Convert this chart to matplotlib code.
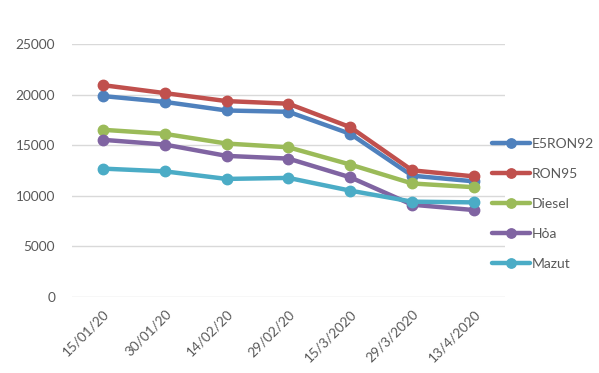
import matplotlib
matplotlib.use("Agg")
import matplotlib.pyplot as plt

dates = ["15/01/20", "30/01/20", "14/02/20", "29/02/20", "15/3/2020", "29/3/2020", "13/4/2020"]
e5ron92 = [19850, 19270, 18420, 18290, 16110, 11970, 11410]
ron95 = [20930, 20140, 19350, 19090, 16770, 12500, 11900]
diesel = [16510, 16110, 15150, 14780, 13070, 11200, 10830]
hoa = [15520, 15050, 13930, 13660, 11810, 9100, 8570]
mazut = [12670, 12400, 11650, 11750, 10490, 9400, 9330]

series_names = ["E5RON92", "RON95", "Diesel", "Hỏa", "Mazut"]
series_values = [e5ron92, ron95, diesel, hoa, mazut]
colors = ["#4F81BD", "#C0504D", "#9BBB59", "#8064A2", "#4BACC6"]
yticks = [0, 5000, 10000, 15000, 20000, 25000]

plt.rcParams['font.family'] = ['Lato', 'DejaVu Sans']
text_color = "#595959"

fig = plt.figure(figsize=(5.99, 3.73), dpi=100)
ax = fig.add_axes([0.120, 0.2046, 0.723, 0.6775])

x = list(range(len(dates)))
for name, vals, c in zip(series_names, series_values, colors):
    ax.plot(x, vals, color=c, lw=3.2, marker='o', markersize=7.5, label=name,
            solid_capstyle='round')

ax.set_xlim(-0.5, len(dates) - 0.5)
ax.set_ylim(0, 25000)
ax.set_yticks(yticks)
ax.set_yticklabels([str(v) for v in yticks], fontsize=9.8, color=text_color)
ax.set_xticks(x)
ax.set_xticklabels(dates, rotation=45, ha='right', rotation_mode='anchor',
                   fontsize=9.8, color=text_color)
ax.tick_params(axis='both', length=0)
ax.tick_params(axis='y', pad=12)
ax.tick_params(axis='x', pad=8)
for s in ax.spines.values():
    s.set_visible(False)
ax.yaxis.grid(True, color="#d9d9d9", lw=1)
ax.set_axisbelow(True)

leg = fig.legend(loc='center left', bbox_to_anchor=(0.822, 0.454), frameon=False,
                 fontsize=10, handlelength=2.7, handletextpad=0.12, labelspacing=1.3,
                 borderaxespad=0, borderpad=0, labelcolor=text_color, markerscale=0.9)

fig.savefig("out.png", dpi=100)
